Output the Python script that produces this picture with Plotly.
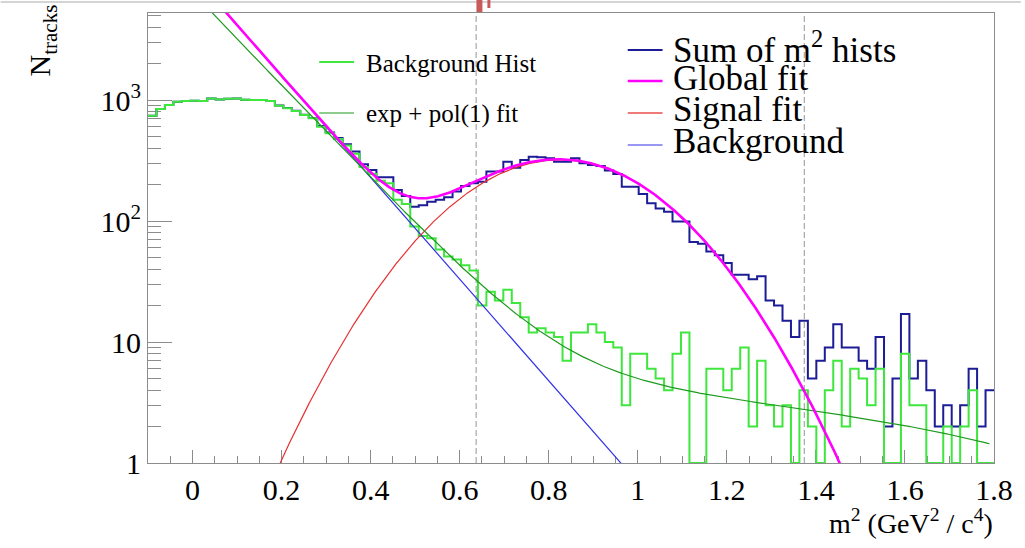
import numpy as np
import plotly.graph_objects as go

# ---------------- data ----------------
x_min, x_max, n_bins = -0.1, 1.8, 100

# background (green) histogram, counts per bin
bkg_hist = [741, 843, 909, 968, 980, 985, 980, 1030, 1010, 1025,
            1030, 1005, 1000, 1000, 982, 897, 854, 811, 751, 706,
            600, 530, 475, 420, 360, 280, 245, 215, 205, 150,
            138, 90, 75, 72, 58, 51, 48, 43, 39, 20,
            26, 22, 27, 21, 16, 12, 13, 12, 11, 7,
            12, 12, 14, 12, 10, 9, 3, 8, 8, 6,
            5, 4, 8, 12, 0, 0, 6, 6, 4, 6,
            9, 2, 7, 3, 2, 3, 0, 4, 2, 0,
            4, 7, 2, 6, 5, 3, 6, 0, 0, 8,
            3, 3, 0, 0, 2, 0, 2, 4, 0, 0]

# sum of m^2 histograms (dark blue), counts per bin
sum_hist = [741, 843, 909, 968, 980, 985, 980, 1030, 1010, 1025,
            1030, 1005, 1000, 1000, 982, 899, 857, 815, 755, 710,
            610, 540, 485, 430, 375, 294, 264, 230, 230, 180,
            161, 131, 135, 144, 150, 157, 175, 195, 205, 211,
            256, 256, 309, 276, 319, 340, 336, 330, 309, 309,
            330, 300, 290, 285, 261, 245, 192, 192, 167, 140,
            127, 119, 99, 99, 67, 65, 56, 52, 45, 36,
            36, 33, 35, 22, 20, 15, 11, 15, 5, 7,
            9, 14, 9, 9, 7, 6, 11, 2, 5, 17,
            5, 7, 4, 2, 3, 2, 3, 6, 2, 4]

# fit parameters
sig_amp, sig_mean, sig_sigma = 320.0, 0.825, 0.185        # Gaussian signal
bkg_p0, bkg_p1 = 9.302, -9.671                            # exp(p0 + p1*x)
expfit_q0, expfit_q1 = 8.957, -8.865                      # exp part of exp+pol(1)
expfit_c0, expfit_c1 = 6.99, -3.1                         # pol(1) part
expfit_xmax = 1.79

window_edges = [0.637, 1.374]

x_tick_vals = [0, 0.2, 0.4, 0.6, 0.8, 1.0, 1.2, 1.4, 1.6, 1.8]
x_tick_labels = ["0", "0.2", "0.4", "0.6", "0.8", "1", "1.2", "1.4", "1.6", "1.8"]
y_tick_vals = [1, 10, 100, 1000]
y_tick_labels = ["1", "10", "10<sup>2</sup>", "10<sup>3</sup>"]
y_max = 5236

legend1_labels = ["Background Hist", "exp + pol(1) fit"]
legend2_labels = ["Sum of m<sup>2</sup> hists", "Global fit", "Signal fit", "Background"]

# ---------------- styles ----------------
FONT = "Liberation Serif, Times New Roman, serif"
C_SUM = "#1c1c96"
C_BKGH = "#3ee63e"
C_EXPFIT = "#1f9a1f"
C_GLOBAL = "#ff00ff"
C_SIG = "#e83030"
C_BKGF = "#3333e8"
C_AXIS = "#8c8c8c"

# plot frame in pixels
L, R, T, B = 148, 998, 13, 463
W, H = 1025, 548


def px_x(px):
    return (px - L) / (R - L)


def px_y(py):
    return (B - py) / (B - T)


# ---------------- computations ----------------
edges = np.linspace(x_min, x_max, n_bins + 1)
bkg_arr = np.array(bkg_hist, dtype=float)
sum_arr = np.array(sum_hist, dtype=float)
# empty bins are drawn on the bottom frame edge (as ROOT does on log scale)
bkg_draw = np.where(bkg_arr > 0, bkg_arr, 1.0)
sum_draw = np.where(sum_arr > 0, sum_arr, 1.0)

step_x = np.append(edges[:-1], edges[-1])
bkg_y = np.append(bkg_draw, bkg_draw[-1])
sum_y = np.append(sum_draw, sum_draw[-1])

xs = np.linspace(x_min, x_max, 1500)
signal = sig_amp * np.exp(-0.5 * ((xs - sig_mean) / sig_sigma) ** 2)
background = np.exp(bkg_p0 + bkg_p1 * xs)
global_fit = signal + background
xs_e = np.linspace(x_min, expfit_xmax, 1500)
expfit = np.exp(expfit_q0 + expfit_q1 * xs_e) + expfit_c0 + expfit_c1 * xs_e

fig = go.Figure()
fig.add_trace(go.Scatter(x=step_x, y=sum_y, mode="lines", line_shape="hv",
                         line=dict(color=C_SUM, width=2), name="Sum of m2 hists"))
fig.add_trace(go.Scatter(x=step_x, y=bkg_y, mode="lines", line_shape="hv",
                         line=dict(color=C_BKGH, width=2), name="Background Hist"))
fig.add_trace(go.Scatter(x=xs, y=background, mode="lines",
                         line=dict(color=C_BKGF, width=1.2), name="Background"))
fig.add_trace(go.Scatter(x=xs, y=signal, mode="lines",
                         line=dict(color=C_SIG, width=1.2), name="Signal fit"))
fig.add_trace(go.Scatter(x=xs_e, y=expfit, mode="lines",
                         line=dict(color=C_EXPFIT, width=1.2), name="exp + pol(1) fit"))
fig.add_trace(go.Scatter(x=xs, y=global_fit, mode="lines",
                         line=dict(color=C_GLOBAL, width=2.6), name="Global fit"))

shapes = []
for xe in window_edges:
    shapes.append(dict(type="line", xref="x", yref="paper", x0=xe, x1=xe, y0=0, y1=1,
                       line=dict(color="#a8a8a8", width=1.2, dash="6px,3px"), layer="below"))

annotations = []
# legend 1
leg1_colors = [C_BKGH, C_EXPFIT]
leg1_widths = [2, 1.2]
leg1_rows = [62, 113]
for lab, col, wd, yy in zip(legend1_labels, leg1_colors, leg1_widths, leg1_rows):
    shapes.append(dict(type="line", xref="paper", yref="paper", x0=px_x(320), x1=px_x(355),
                       y0=px_y(yy), y1=px_y(yy), line=dict(color=col, width=wd)))
    annotations.append(dict(text=lab, xref="paper", yref="paper", x=px_x(365), y=px_y(yy + 1),
                            xanchor="left", yanchor="middle", showarrow=False,
                            font=dict(family=FONT, size=25, color="black")))
# legend 2
leg2_colors = [C_SUM, C_GLOBAL, "#f07a7a", C_BKGF]
leg2_widths = [2, 2.6, 2, 1.2]
leg2_rows = [47, 78, 110, 142]
for lab, col, wd, yy in zip(legend2_labels, leg2_colors, leg2_widths, leg2_rows):
    shapes.append(dict(type="line", xref="paper", yref="paper", x0=px_x(630), x1=px_x(665),
                       y0=px_y(yy + 3), y1=px_y(yy + 3), line=dict(color=col, width=wd)))
    annotations.append(dict(text=lab, xref="paper", yref="paper", x=px_x(673), y=px_y(yy),
                            xanchor="left", yanchor="middle", showarrow=False,
                            font=dict(family=FONT, size=35, color="black")))

# axis titles
annotations.append(dict(text="N<sub>tracks</sub>", xref="paper", yref="paper",
                        x=px_x(42), y=px_y(40), xanchor="center", yanchor="middle",
                        textangle=-90, showarrow=False,
                        font=dict(family=FONT, size=30, color="black")))
annotations.append(dict(text="m<sup>2</sup> (GeV<sup>2</sup> / c<sup>4</sup>)", xref="paper",
                        yref="paper", x=px_x(999), y=px_y(521), xanchor="right",
                        yanchor="middle", showarrow=False,
                        font=dict(family=FONT, size=28, color="black")))

# screenshot artefacts at the very top
shapes.append(dict(type="line", xref="paper", yref="paper", x0=px_x(0), x1=px_x(W),
                   y0=px_y(2), y1=px_y(2), line=dict(color="#d4d4d4", width=2)))
shapes.append(dict(type="rect", xref="paper", yref="paper", x0=px_x(478), x1=px_x(484),
                   y0=px_y(12), y1=px_y(0), line=dict(width=0), fillcolor="#c85a5a"))
shapes.append(dict(type="rect", xref="paper", yref="paper", x0=px_x(489), x1=px_x(492),
                   y0=px_y(8), y1=px_y(0), line=dict(width=0), fillcolor="#c85a5a"))

minor_y = [m * 10 ** d for d in range(0, 4) for m in range(2, 10) if m * 10 ** d < y_max]

fig.update_layout(
    width=W, height=H,
    margin=dict(l=L, r=W - R, t=T, b=H - B),
    paper_bgcolor="white", plot_bgcolor="white",
    showlegend=False,
    shapes=shapes, annotations=annotations,
    xaxis=dict(range=[x_min, x_max], tickmode="array", tickvals=x_tick_vals,
               ticktext=x_tick_labels, ticks="inside", ticklen=13, tickwidth=1,
               tickcolor=C_AXIS, showline=True, linecolor=C_AXIS, linewidth=1,
               mirror=True, showgrid=False, zeroline=False, layer="below traces",
               tickfont=dict(family=FONT, size=30, color="black"),
               minor=dict(ticks="inside", ticklen=7, dtick=0.05, tick0=0,
                          tickcolor=C_AXIS, showgrid=False)),
    yaxis=dict(type="log", range=[0, np.log10(y_max)], tickmode="array",
               tickvals=y_tick_vals, ticktext=y_tick_labels, ticks="inside",
               ticklen=24, tickwidth=1, tickcolor=C_AXIS, showline=True,
               linecolor=C_AXIS, linewidth=1, mirror=True, showgrid=False,
               zeroline=False, layer="below traces",
               tickfont=dict(family=FONT, size=30, color="black"),
               minor=dict(ticks="inside", ticklen=13, tickmode="array",
                          tickvals=minor_y, tickcolor=C_AXIS, showgrid=False)),
)

fig.write_html("out.html")
